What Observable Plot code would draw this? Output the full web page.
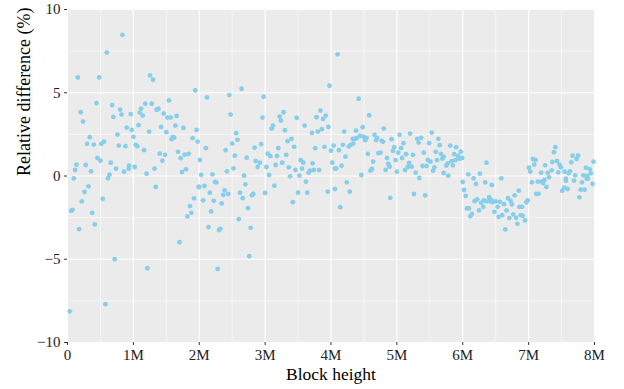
<!DOCTYPE html>
<html>
<head>
<meta charset="utf-8">
<script src="https://cdn.jsdelivr.net/npm/d3@7"></script>
<script src="https://cdn.jsdelivr.net/npm/@observablehq/plot@0.6"></script>
<style>
  html, body { margin: 0; padding: 0; background: #fff; }
  #chart svg { font-family: "Liberation Serif", "DejaVu Serif", serif !important; background: #fff; }
  #chart svg text { font-family: "Liberation Serif", "DejaVu Serif", serif !important; }
</style>
</head>
<body>
<div id="chart"></div>
<script>
// Block height in millions of blocks
const blockHeightM = [
0.834,0.596,0.156,0.48,1.253,1.298,1.94,0.2,0.237,0.44,0.677,0.697,0.8,0.82,0.96,1.096,1.117,1.142,1.18,1.279,
1.354,1.38,1.46,1.54,1.516,1.567,1.657,1.637,1.42,1.5,1.76,1.96,1.9,1.976,2.01,1.58,1.6,1.62,1.238,1.077,
0.9,0.975,0.758,1.0,0.338,0.297,0.399,0.515,0.555,0.778,0.879,1.035,1.06,1.162,1.4,1.48,1.677,1.718,1.78,1.84,
1.44,0.455,0.5,0.657,0.737,0.934,0.93,0.858,1.02,1.2,1.32,1.738,1.8,0.136,0.115,0.277,0.358,0.096,0.637,0.616,
2.03,1.34,1.99,0.318,0.258,0.217,0.075,0.055,0.374,0.535,0.414,0.176,0.717,1.213,0.576,0.035,1.92,1.86,1.88,1.82,1.7,
2.117,2.456,2.643,2.977,2.476,2.96,3.977,2.56,2.5,2.58,2.1,2.4,2.54,2.84,2.94,2.72,2.2,2.42,2.52,2.68,
2.855,2.886,2.92,3.02,3.04,3.08,3.16,3.18,3.2,3.06,3.1,3.12,3.24,3.22,3.28,3.3,3.26,3.32,3.34,3.4,
3.44,3.36,3.38,3.46,3.48,3.54,3.56,3.58,3.52,3.6,3.66,3.68,3.72,3.74,3.82,3.71,3.76,3.78,3.8,3.84,
3.86,3.88,3.92,3.96,3.9,4.0,4.04,4.02,4.06,2.0,2.08,2.06,2.16,2.22,2.24,2.26,2.385,2.365,2.44,2.34,
2.18,2.14,2.3,2.32,2.28,2.76,2.6,2.78,2.74,2.62,2.66,2.7,2.8,2.82,3.0,3.14,3.62,3.42,3.5,3.64,3.95,4.06,
4.1,4.42,4.58,4.2,4.38,4.48,4.8,4.12,4.18,4.27,4.3,4.34,4.33,4.36,4.39,4.44,4.49,4.52,4.54,4.52,
4.22,4.08,4.16,4.46,4.56,4.6,4.62,4.64,4.66,4.685,4.7,4.72,4.75,4.77,4.79,4.85,4.87,4.89,4.83,4.92,
4.94,4.96,4.98,5.0,5.02,5.04,5.065,5.08,5.1,5.125,5.14,5.165,5.185,5.2,5.225,5.245,5.285,5.31,5.33,5.37,
5.34,5.39,5.41,5.45,5.47,5.51,5.49,5.53,5.55,5.57,5.59,5.61,5.63,5.65,5.67,5.69,5.71,5.71,5.75,5.77,
5.78,5.81,5.83,5.85,5.87,5.89,5.9,5.93,5.95,5.97,5.99,6.085,4.24,4.285,4.14,4.9,5.26,5.43,6.0,6.02,
6.045,6.065,6.095,6.115,
6.36,6.26,6.165,6.585,7.005,7.025,7.065,7.085,7.105,7.19,7.25,7.29,7.31,7.35,7.36,7.385,7.405,7.43,7.45,7.47,
7.49,7.545,7.565,7.605,7.627,7.647,7.667,7.707,7.727,7.75,7.83,7.87,7.89,7.93,7.945,7.985,6.2,6.34,6.44,6.14,
6.18,6.22,6.247,6.28,6.31,6.32,6.36,6.4,6.41,6.44,6.45,6.5,6.53,6.48,6.545,6.565,6.6,6.625,6.665,6.687,
6.707,6.727,6.747,6.646,6.767,6.787,6.81,6.83,6.85,6.86,6.9,6.88,6.91,6.945,6.965,6.985,7.05,7.116,7.15,7.14,
7.2,7.22,7.24,7.27,7.51,7.54,7.59,7.565,7.69,7.77,7.79,7.85,7.81,7.88,7.9,7.97
];
// Relative difference in percent
const relDiff = [
8.48,7.41,5.92,5.92,6.04,5.78,5.14,3.83,3.27,4.38,4.26,3.55,3.99,3.69,3.72,3.81,4.05,3.63,4.34,4.34,
3.98,4.04,3.75,4.54,3.51,3.51,3.61,3.03,2.95,2.63,2.89,2.77,2.27,2.07,0.96,2.21,2.35,2.3,2.67,3.05,
2.91,2.77,2.49,2.35,2.33,1.93,1.89,1.93,2.07,1.83,1.79,1.87,1.79,1.55,1.34,1.27,1.45,1.07,1.28,1.33,
0.92,1.08,0.92,0.8,0.44,0.62,0.44,0.26,0.54,0.14,0.44,0.24,0.4,0.68,0.36,0.66,0.28,-0.14,0.08,-0.14,
0.07,-0.66,-0.66,-0.62,-0.96,-1.52,-2.03,-2.09,-2.21,-1.37,-2.91,-3.19,-5.0,-5.54,-7.7,-8.13,-1.34,-1.81,-2.21,-2.43,-3.98,
4.72,4.86,5.24,4.76,3.69,3.51,5.42,2.57,1.95,2.17,1.67,1.55,1.22,1.7,1.91,1.1,0.1,0.28,0.46,0.02,
0.9,0.54,0.8,0.54,1.34,1.19,0.66,1.2,1.67,0.06,2.85,3.03,3.33,3.57,3.83,2.75,0.8,1.27,2.09,2.23,
1.75,0.52,-0.02,0.36,3.49,0.95,0.44,0.8,0.02,3.03,0.2,0.32,0.76,0.36,0.36,2.59,1.67,3.53,2.67,3.93,
2.81,3.43,3.63,2.95,1.75,1.52,1.83,0.8,0.44,-0.66,-0.6,-1.46,-1.0,-1.49,-0.36,-0.38,-0.86,-1.13,-1.08,-1.65,
-2.13,-3.07,-3.25,-3.17,-5.58,-4.82,-2.59,-3.11,-1.93,-1.0,-1.33,-0.5,-1.16,-1.08,-1.02,-0.58,-0.34,-1.57,-1.0,-1.0,-0.94,-0.78,
7.31,4.64,3.65,2.67,2.73,2.93,2.85,1.55,1.87,1.77,1.87,1.95,2.23,2.23,2.27,2.41,2.37,2.29,2.29,2.15,
1.16,0.46,0.62,0.06,1.33,0.32,0.42,0.86,2.47,2.15,2.29,1.37,1.4,2.11,2.05,1.08,0.72,0.56,0.36,2.21,
1.51,1.73,0.95,0.26,1.4,2.47,1.67,1.08,1.97,0.36,1.31,0.54,0.78,2.55,0.56,1.27,0.2,2.23,2.01,2.29,
-0.12,0.6,1.4,0.6,0.96,0.86,1.97,2.61,0.32,0.52,1.45,0.95,2.23,1.85,1.33,1.04,1.16,0.18,0.62,0.76,
0.02,1.83,0.89,0.64,1.31,0.95,1.73,1.2,1.04,1.46,1.08,0.1,-0.38,-0.94,-1.87,-1.31,-1.08,-1.16,-0.36,-0.84,
-1.19,-1.95,-1.95,-2.41,
0.8,0.14,-0.14,-0.14,0.5,0.26,1.02,0.68,0.96,0.2,0.64,0.18,-0.08,0.34,0.84,1.43,1.73,0.9,0.22,0.68,
0.52,0.26,-0.16,0.16,0.28,0.82,1.22,0.04,1.02,1.22,0.04,0.5,0.0,0.4,0.16,0.86,-0.48,-0.38,-0.54,-2.27,
-1.51,-1.4,-2.07,-1.61,-1.85,-1.46,-1.52,-1.27,-1.51,-1.46,-1.58,-1.52,-1.85,-2.15,-2.45,-1.55,-2.35,-1.69,-2.07,-1.33,
-2.53,-1.49,-1.7,-3.21,-2.31,-1.16,-2.51,-2.87,-0.88,-1.85,-1.85,-2.35,-2.39,-2.67,-1.58,-1.46,-0.38,-1.07,-1.07,-0.34,
-0.34,-0.42,-0.24,-0.66,-0.88,-0.7,-0.78,-0.28,-0.28,-1.28,-0.82,-0.82,-0.38,-0.16,-0.16,-0.48
];
const xTicks = [0, 1e6, 2e6, 3e6, 4e6, 5e6, 6e6, 7e6, 8e6];
const xMinor = [0.5e6, 1.5e6, 2.5e6, 3.5e6, 4.5e6, 5.5e6, 6.5e6, 7.5e6];
const yTicks = [-10, -5, 0, 5, 10];
const yMinor = [-7.5, -2.5, 2.5, 7.5];
const xTitle = "Block height";
const yTitle = "Relative difference (%)";

const n = Math.min(blockHeightM.length, relDiff.length);
const data = d3.range(n).map(i => ({x: blockHeightM[i] * 1e6, y: relDiff[i]}));

const fmt = d => d === 0 ? "0" : (d / 1e6) + "M";
const serif = "Liberation Serif";

const chart = Plot.plot({
  width: 624,
  height: 389,
  marginLeft: 67,
  marginRight: 30,
  marginTop: 9,
  marginBottom: 47,
  x: {domain: [0, 8e6], label: null},
  y: {domain: [-10, 10], label: null},
  marks: [
    Plot.frame({fill: "#EBEBEB", stroke: null}),
    Plot.gridX(xMinor, {stroke: "#fff", strokeOpacity: 1, strokeWidth: 0.55}),
    Plot.gridY(yMinor, {stroke: "#fff", strokeOpacity: 1, strokeWidth: 0.55}),
    Plot.gridX(xTicks, {stroke: "#fff", strokeOpacity: 1, strokeWidth: 1.1}),
    Plot.gridY(yTicks, {stroke: "#fff", strokeOpacity: 1, strokeWidth: 1.1}),
    Plot.dot(data, {x: "x", y: "y", r: 2.4, fill: "#87CEEB", stroke: null}),
    Plot.axisX(xTicks, {tickSize: 3, tickPadding: 4, tickFormat: fmt, fontSize: 15, fontFamily: serif, label: null, stroke: "#333", fill: "#222"}),
    Plot.axisY(yTicks, {tickSize: 3, tickPadding: 4, fontSize: 15, fontFamily: serif, label: null, stroke: "#333", fill: "#222"}),
    Plot.text([xTitle], {frameAnchor: "bottom", dy: 37, text: d => d, fontSize: 17.5, fontFamily: serif, fill: "#000"}),
    Plot.text([yTitle], {frameAnchor: "left", dx: -43, rotate: -90, text: d => d, fontSize: 18, fontFamily: serif, fill: "#000"})
  ]
});
document.getElementById("chart").appendChild(chart);
</script>
</body>
</html>
